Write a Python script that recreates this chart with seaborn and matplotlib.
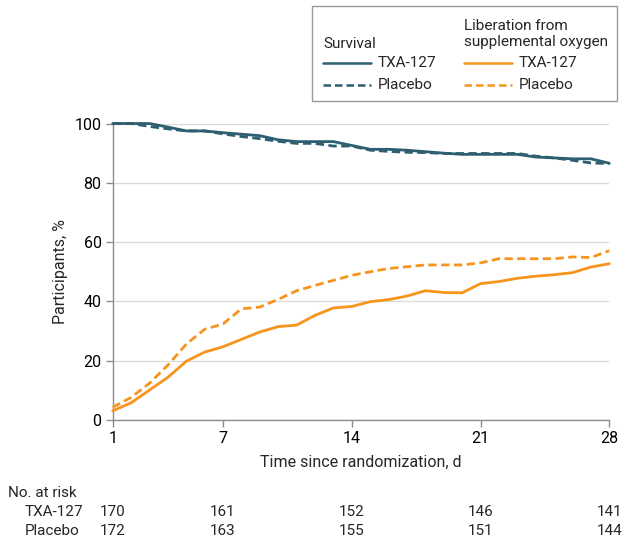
import numpy as np
import pandas as pd
import matplotlib
matplotlib.use("Agg")
import matplotlib.pyplot as plt
from matplotlib.lines import Line2D
from matplotlib.patches import Rectangle
import seaborn as sns

# Data (values in %, days 1-28)
days = list(range(1, 29))
surv_txa = [100, 100, 100, 98.8, 97.5, 97.5, 96.9, 96.4, 95.9, 94.5,
            93.9, 93.9, 93.9, 92.6, 91.3, 91.3, 91.0, 90.5, 90.0, 89.6,
            89.6, 89.6, 89.6, 88.7, 88.4, 88.1, 88.1, 86.6]
surv_pbo = [100, 100, 99.0, 98.2, 97.5, 97.5, 96.5, 95.6, 94.9, 94.0,
            93.3, 93.3, 92.4, 92.4, 91.0, 90.6, 90.3, 90.2, 89.9, 89.9,
            89.9, 89.9, 89.9, 89.0, 88.4, 87.6, 86.7, 86.5]
lib_txa = [3.1, 5.8, 10.1, 14.4, 19.8, 22.9, 24.7, 27.2, 29.7, 31.5,
           32.0, 35.3, 37.8, 38.3, 39.9, 40.6, 41.8, 43.6, 43.0, 42.9,
           46.0, 46.7, 47.8, 48.5, 49.0, 49.7, 51.6, 52.7]
lib_pbo = [4.3, 7.6, 12.4, 18.5, 25.6, 30.6, 32.4, 37.5, 38.1, 40.7,
           43.6, 45.4, 47.1, 48.8, 50.0, 51.1, 51.7, 52.3, 52.3, 52.3,
           53.0, 54.4, 54.4, 54.4, 54.4, 55.0, 54.8, 57.1]

risk_days = [1, 7, 14, 21, 28]
risk_txa = [170, 161, 152, 146, 141]
risk_pbo = [172, 163, 155, 151, 144]

TEAL = "#2D5F70"
ORANGE = "#F7941D"
GRAY = "#8C8C8C"
DASH = (0, (3, 1.6))

sns.set_theme(style="white")
plt.rcParams["font.family"] = ["Roboto", "DejaVu Sans"]
plt.rcParams["font.size"] = 11

df = pd.DataFrame({
    "day": days * 4,
    "pct": surv_txa + surv_pbo + lib_txa + lib_pbo,
    "series": (["surv_txa"] * 28 + ["surv_pbo"] * 28
               + ["lib_txa"] * 28 + ["lib_pbo"] * 28),
})

fig = plt.figure(figsize=(6.31, 5.42), dpi=100)
ax = fig.add_axes([0.1786, 0.2251, 0.7870, 0.5470])

styles = {
    "surv_txa": (TEAL, "-"),
    "surv_pbo": (TEAL, DASH),
    "lib_txa": (ORANGE, "-"),
    "lib_pbo": (ORANGE, DASH),
}
for key, (col, ls) in styles.items():
    sub = df[df["series"] == key]
    sns.lineplot(data=sub, x="day", y="pct", ax=ax, color=col,
                 linestyle=ls, linewidth=2, clip_on=False, zorder=3)

ax.set_xlim(1, 28)
ax.set_ylim(0, 100)
ax.set_xticks(risk_days)
ax.set_yticks(range(0, 101, 20))
ax.yaxis.grid(True, color="#DCDCDC", linewidth=1)
ax.set_axisbelow(True)
for s in ["top", "right"]:
    ax.spines[s].set_visible(False)
for s in ["left", "bottom"]:
    ax.spines[s].set_color(GRAY)
    ax.spines[s].set_linewidth(1)
ax.tick_params(axis="both", direction="out", length=5, width=1, color=GRAY,
               labelsize=11.5, labelcolor="black", pad=3, left=True, bottom=True)
ax.set_xlabel("Time since randomization, d", fontsize=11.5, labelpad=6)
ax.set_ylabel("Participants, %", fontsize=11.5, labelpad=5)

# Number at risk table
fig.text(8 / 631, 1 - 493 / 542, "No. at risk", fontsize=11, va="center")
for lab, vals, y in [("TXA-127", risk_txa, 512), ("Placebo", risk_pbo, 531)]:
    fig.text(25 / 631, 1 - y / 542, lab, fontsize=11, va="center")
    for d, v in zip(risk_days, vals):
        xf = ax.transData.transform((d, 0))[0] / fig.bbox.width
        fig.text(xf, 1 - y / 542, str(v), fontsize=11, va="center", ha="center")


# Legend box (pixel positions -> figure fraction)
def fx(px):
    return px / 631


def fy(py):
    return 1 - py / 542


fig.patches.append(Rectangle((fx(312), fy(101)), fx(617) - fx(312), fy(6) - fy(101),
                             transform=fig.transFigure, fill=False,
                             edgecolor="#9A9A9A", linewidth=1))
fig.text(fx(323), fy(44), "Survival", fontsize=11, va="center")
fig.text(fx(464), fy(34), "Liberation from\nsupplemental oxygen", fontsize=11,
         va="center", linespacing=1.2)
for x0, col in [(323, TEAL), (464, ORANGE)]:
    for y0, ls, lab in [(63, "-", "TXA-127"), (85, DASH, "Placebo")]:
        fig.lines.append(Line2D([fx(x0), fx(x0 + 48)], [fy(y0), fy(y0)],
                                transform=fig.transFigure, color=col,
                                linestyle=ls, linewidth=1.8))
        fig.text(fx(x0 + 55), fy(y0), lab, fontsize=11, va="center")

fig.savefig("out.png", dpi=100)
